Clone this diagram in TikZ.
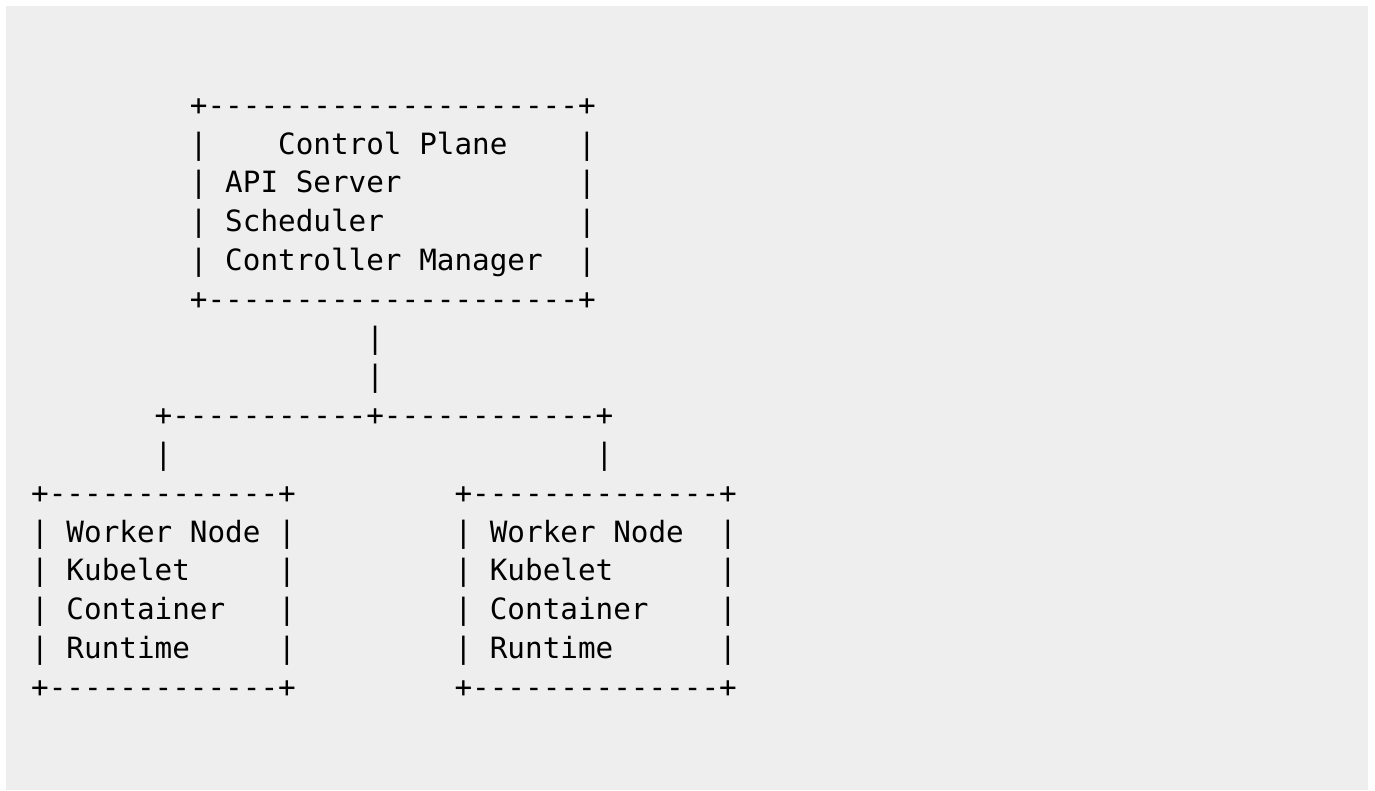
\documentclass[tikz,border=0pt]{standalone}
\usepackage{fontspec}
\newfontfamily\asciifont{DejaVu Sans Mono}
\newcommand\dsh[1]{\foreach \i in {1,...,#1}{\hbox{-}}}
\newcommand\cx[1]{31.2+#1*17.64}
\newcommand\ry[1]{115.2+#1*38.8}
\begin{document}
\begin{tikzpicture}[x=1pt,y=-1pt,
  txt/.style={font=\asciifont\fontsize{29.3}{38.8}\selectfont, text=black,
    inner sep=0pt, outer sep=0pt, anchor=base west}]
\useasboundingbox (0,0) rectangle (1375,790);
\fill[white] (0,0) rectangle (1375,790);
\fill[fill={rgb,255:red,238;green,238;blue,238}] (6,6) rectangle (1368,790);
% control plane box
\node[txt] (cpT) at ({\cx{9}},{\ry{0}}) {+\dsh{21}+};
\node[txt] (cp1l) at ({\cx{9}},{\ry{1}}) {|};
\node[txt] (cp1) at ({\cx{14}},{\ry{1}}) {Control Plane};
\node[txt] (cp1r) at ({\cx{31}},{\ry{1}}) {|};
\node[txt] (cp2l) at ({\cx{9}},{\ry{2}}) {|};
\node[txt] (cp2) at ({\cx{11}},{\ry{2}}) {API Server};
\node[txt] (cp2r) at ({\cx{31}},{\ry{2}}) {|};
\node[txt] (cp3l) at ({\cx{9}},{\ry{3}}) {|};
\node[txt] (cp3) at ({\cx{11}},{\ry{3}}) {Scheduler};
\node[txt] (cp3r) at ({\cx{31}},{\ry{3}}) {|};
\node[txt] (cp4l) at ({\cx{9}},{\ry{4}}) {|};
\node[txt] (cp4) at ({\cx{11}},{\ry{4}}) {Controller Manager};
\node[txt] (cp4r) at ({\cx{31}},{\ry{4}}) {|};
\node[txt] (cpB) at ({\cx{9}},{\ry{5}}) {+\dsh{21}+};
% connectors
\node[txt] (v1) at ({\cx{19}},{\ry{6}}) {|};
\node[txt] (v2) at ({\cx{19}},{\ry{7}}) {|};
\node[txt] (hbar) at ({\cx{7}},{\ry{8}}) {+\dsh{11}+\dsh{12}+};
\node[txt] (vl) at ({\cx{7}},{\ry{9}}) {|};
\node[txt] (vr) at ({\cx{32}},{\ry{9}}) {|};
% left worker
\node[txt] (wlT) at ({\cx{0}},{\ry{10}}) {+\dsh{13}+};
\node[txt] (wl1l) at ({\cx{0}},{\ry{11}}) {|};
\node[txt] (wl1) at ({\cx{2}},{\ry{11}}) {Worker Node};
\node[txt] (wl1r) at ({\cx{14}},{\ry{11}}) {|};
\node[txt] (wl2l) at ({\cx{0}},{\ry{12}}) {|};
\node[txt] (wl2) at ({\cx{2}},{\ry{12}}) {Kubelet};
\node[txt] (wl2r) at ({\cx{14}},{\ry{12}}) {|};
\node[txt] (wl3l) at ({\cx{0}},{\ry{13}}) {|};
\node[txt] (wl3) at ({\cx{2}},{\ry{13}}) {Container};
\node[txt] (wl3r) at ({\cx{14}},{\ry{13}}) {|};
\node[txt] (wl4l) at ({\cx{0}},{\ry{14}}) {|};
\node[txt] (wl4) at ({\cx{2}},{\ry{14}}) {Runtime};
\node[txt] (wl4r) at ({\cx{14}},{\ry{14}}) {|};
\node[txt] (wlB) at ({\cx{0}},{\ry{15}}) {+\dsh{13}+};
% right worker
\node[txt] (wrT) at ({\cx{24}},{\ry{10}}) {+\dsh{14}+};
\node[txt] (wr1l) at ({\cx{24}},{\ry{11}}) {|};
\node[txt] (wr1) at ({\cx{26}},{\ry{11}}) {Worker Node};
\node[txt] (wr1r) at ({\cx{39}},{\ry{11}}) {|};
\node[txt] (wr2l) at ({\cx{24}},{\ry{12}}) {|};
\node[txt] (wr2) at ({\cx{26}},{\ry{12}}) {Kubelet};
\node[txt] (wr2r) at ({\cx{39}},{\ry{12}}) {|};
\node[txt] (wr3l) at ({\cx{24}},{\ry{13}}) {|};
\node[txt] (wr3) at ({\cx{26}},{\ry{13}}) {Container};
\node[txt] (wr3r) at ({\cx{39}},{\ry{13}}) {|};
\node[txt] (wr4l) at ({\cx{24}},{\ry{14}}) {|};
\node[txt] (wr4) at ({\cx{26}},{\ry{14}}) {Runtime};
\node[txt] (wr4r) at ({\cx{39}},{\ry{14}}) {|};
\node[txt] (wrB) at ({\cx{24}},{\ry{15}}) {+\dsh{14}+};
\end{tikzpicture}
\end{document}
